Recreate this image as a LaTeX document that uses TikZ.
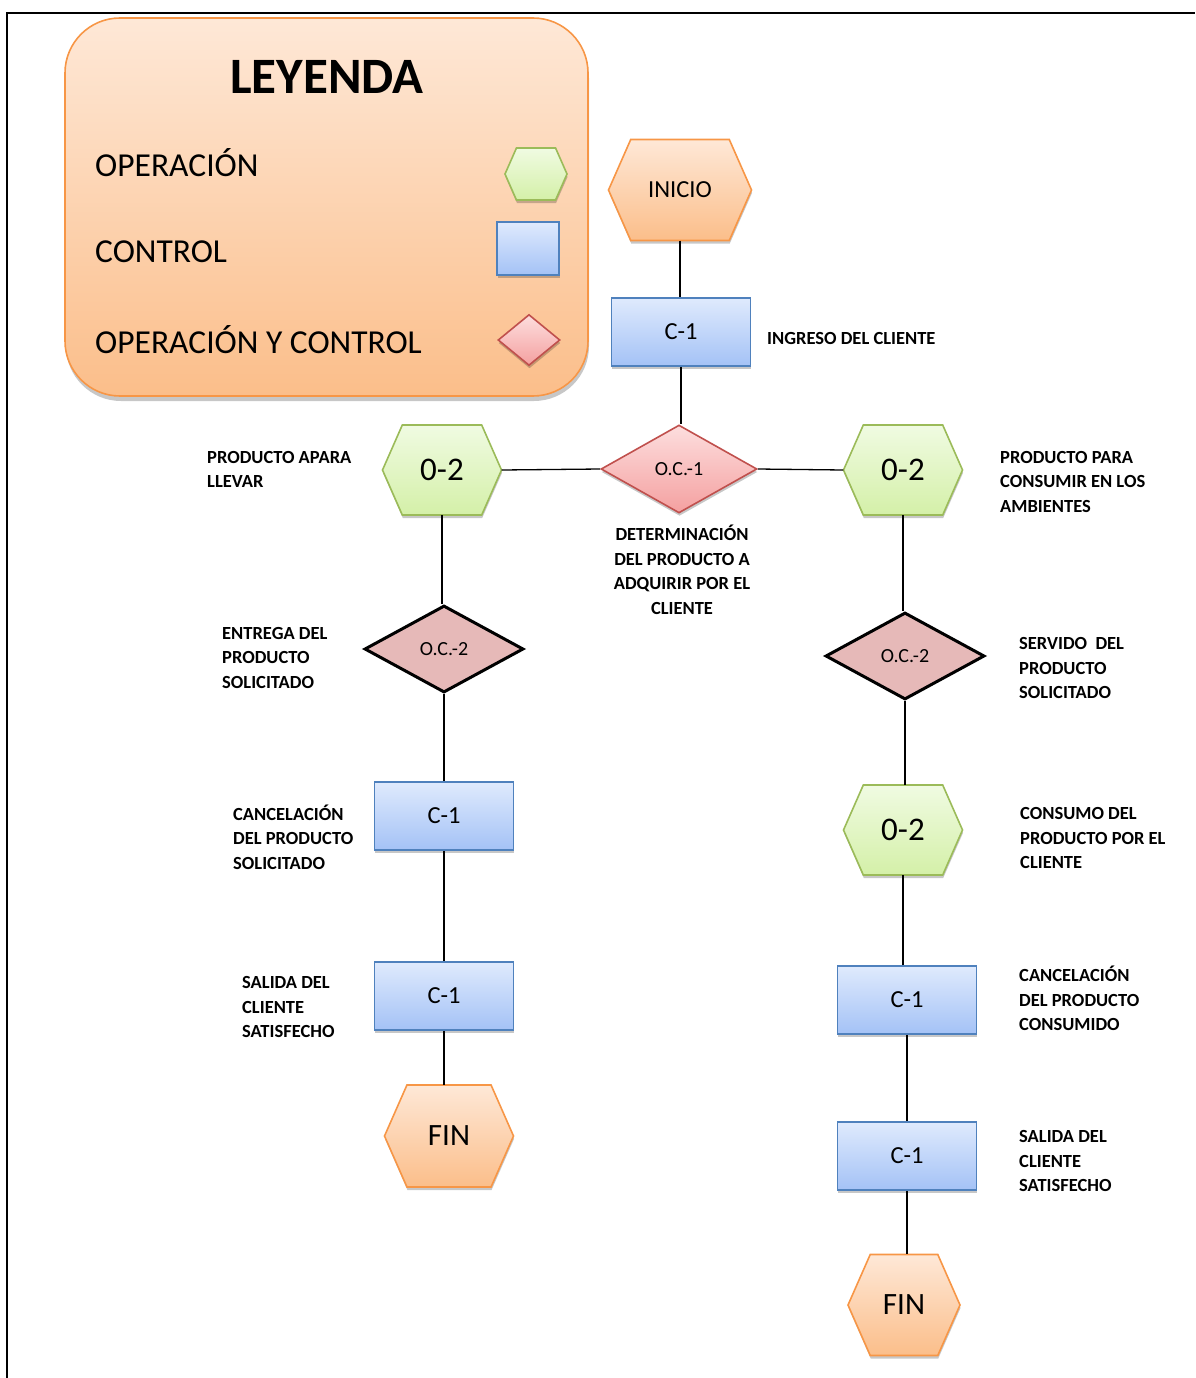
\documentclass[tikz,border=0pt]{standalone}
\usepackage{fontspec}
\setmainfont{Carlito}
\usetikzlibrary{shapes.geometric,shadows,calc}

\definecolor{orgline}{HTML}{F79646}
\definecolor{orgtop}{HTML}{FEE8D7}
\definecolor{orgbot}{HTML}{FBBE8A}
\definecolor{grnline}{HTML}{9BBB59}
\definecolor{grntop}{HTML}{F0FBE2}
\definecolor{grnbot}{HTML}{D4F0A8}
\definecolor{bluline}{HTML}{4F81BD}
\definecolor{blutop}{HTML}{DFEAFD}
\definecolor{blubot}{HTML}{A4C2F6}
\definecolor{redline}{HTML}{C0504D}
\definecolor{redtop}{HTML}{FDDEDE}
\definecolor{redbot}{HTML}{F4A0A0}
\definecolor{ocfill}{HTML}{E6B9B8}

\tikzset{
  conn/.style={draw=black, line width=1.3pt},
  softshadow/.style={drop shadow={shadow xshift=0.5pt, shadow yshift=-3pt, opacity=.22, fill=black}},
  orangefill/.style={top color=orgtop, bottom color=orgbot, draw=orgline, line width=1.6pt, softshadow},
  greenfill/.style={top color=grntop, bottom color=grnbot, draw=grnline, line width=1.6pt, softshadow},
  ctrlbox/.style={rectangle, top color=blutop, bottom color=blubot, draw=bluline, line width=1.6pt,
    minimum width=139pt, minimum height=68pt, inner sep=0pt, softshadow, font=\fontsize{24.5}{28}\selectfont},
  ocfirst/.style={diamond, top color=redtop, bottom color=redbot, draw=redline, line width=1.6pt,
    minimum width=156pt, minimum height=88pt, inner sep=0pt, softshadow, font=\fontsize{20}{24}\selectfont},
  ocsecond/.style={diamond, fill=ocfill, draw=black, line width=3pt,
    minimum width=159pt, minimum height=87pt, inner sep=0pt, font=\fontsize{20}{24}\selectfont},
  hexlabel/.style={rectangle, inner sep=0pt},
  note/.style={font=\bfseries\fontsize{18.5}{24.5}\selectfont, align=left, anchor=west, inner sep=0pt},
  legtext/.style={font=\fontsize{33.5}{40}\selectfont, anchor=west, inner sep=0pt},
  legendbox/.style={rectangle, rounded corners=55pt, top color=orgtop, bottom color=orgbot,
    draw=orgline, line width=1.6pt, minimum width=523pt, minimum height=378pt,
    drop shadow={shadow xshift=1pt, shadow yshift=-5pt, opacity=.22, fill=black}},
}

% hexagon with pointed left and right ends: style, name, x, y, width, height, font, text
\newcommand{\hexnode}[8]{%
  \pgfmathsetmacro{\hexhw}{#5/2}%
  \pgfmathsetmacro{\hexhh}{#6/2}%
  \pgfmathsetmacro{\hexin}{0.22*#6}%
  \path[#1] (#3-\hexhw,#4) -- (#3-\hexhw+\hexin,#4-\hexhh) -- (#3+\hexhw-\hexin,#4-\hexhh)
     -- (#3+\hexhw,#4) -- (#3+\hexhw-\hexin,#4+\hexhh) -- (#3-\hexhw+\hexin,#4+\hexhh) -- cycle;
  \node[hexlabel, minimum width=#5pt, minimum height=#6pt, font=#7] (#2) at (#3,#4) {#8};
}

\begin{document}
\begin{tikzpicture}[x=1pt, y=-1pt]
\useasboundingbox (0,0) rectangle (1195,1378);

% page frame
\draw[line width=2.5pt] (7,1378) -- (7,13) -- (1195,13);

% legend
\node[legendbox] (legend) at (326.5,207) {};
\node[font=\bfseries\fontsize{51}{60}\selectfont] (title) at (327,77) {LEYENDA};
\node[legtext] (lgop) at (95,163) {OPERACIÓN};
\node[legtext] (lgctl) at (95,252) {CONTROL};
\node[legtext] (lgoc) at (95,340) {OPERACIÓN Y CONTROL};
\hexnode{greenfill}{lghex}{536}{174}{62}{52}{\relax}{}
\node[ctrlbox, minimum width=62pt, minimum height=53pt] (lgbox) at (528,248.5) {};
\node[ocfirst, minimum width=62pt, minimum height=51pt] (lgdia) at (529,340) {};

% top of the flow
\hexnode{orangefill}{inicio}{680}{190}{143}{101}{\fontsize{24.5}{28}\selectfont}{INICIO}
\node[ctrlbox] (c1) at (681,332) {C-1};
\node[note] (lingreso) at (767,338) {INGRESO DEL CLIENTE};
\node[ocfirst] (oc1) at (679,469) {O.C.-1};
\node[note, align=center, anchor=center] (ldet) at (682,570) {DETERMINACIÓN\\DEL PRODUCTO A\\ADQUIRIR POR EL\\CLIENTE};

% left branch: take away
\hexnode{greenfill}{opL}{442}{470}{119}{90}{\fontsize{33}{38}\selectfont}{0-2}
\node[note] (lllevar) at (207,469.5) {PRODUCTO APARA\\LLEVAR};
\node[ocsecond] (ocL) at (444,649) {O.C.-2};
\node[note] (lentrega) at (222,657.5) {ENTREGA DEL\\PRODUCTO\\SOLICITADO};
\node[ctrlbox] (cL1) at (444,816) {C-1};
\node[note] (lcancL) at (233,837) {CANCELACIÓN\\DEL PRODUCTO\\SOLICITADO};
\node[ctrlbox] (cL2) at (444,996) {C-1};
\node[note] (lsalL) at (242,1007) {SALIDA DEL\\CLIENTE\\SATISFECHO};
\hexnode{orangefill}{finL}{449}{1136}{129}{102}{\fontsize{31}{36}\selectfont}{FIN}

% right branch: eat in
\hexnode{greenfill}{opR}{903}{470}{119}{90}{\fontsize{33}{38}\selectfont}{0-2}
\node[note] (lconsumir) at (1000,481.5) {PRODUCTO PARA\\CONSUMIR EN LOS\\AMBIENTES};
\node[ocsecond] (ocR) at (905,656) {O.C.-2};
\node[note] (lservido) at (1019,668) {SERVIDO~~DEL\\PRODUCTO\\SOLICITADO};
\hexnode{greenfill}{opR2}{903}{830}{119}{90}{\fontsize{33}{38}\selectfont}{0-2}
\node[note] (lconsumo) at (1020,838) {CONSUMO DEL\\PRODUCTO POR EL\\CLIENTE};
\node[ctrlbox] (cR1) at (907,1000) {C-1};
\node[note] (lcancR) at (1019,998.5) {CANCELACIÓN\\DEL PRODUCTO\\CONSUMIDO};
\node[ctrlbox] (cR2) at (907,1156) {C-1};
\node[note] (lsalR) at (1019,1161) {SALIDA DEL\\CLIENTE\\SATISFECHO};
\hexnode{orangefill}{finR}{904}{1305}{112}{101}{\fontsize{31}{36}\selectfont}{FIN}

% connectors
\draw[conn] (inicio.south) -- (inicio.south |- c1.north);
\draw[conn] (c1.south) -- (c1.south |- oc1.north);
\draw[conn] (opL.east) -- (oc1.west);
\draw[conn] (oc1.east) -- (opR.west);
\draw[conn] (opL.south) -- (opL.south |- ocL.north);
\draw[conn] (ocL.south) -- (ocL.south |- cL1.north);
\draw[conn] (cL1.south) -- (cL1.south |- cL2.north);
\draw[conn] (cL2.south) -- (cL2.south |- finL.north);
\draw[conn] (opR.south) -- (opR.south |- ocR.north);
\draw[conn] (ocR.south) -- (ocR.south |- opR2.north);
\draw[conn] (opR2.south) -- (opR2.south |- cR1.north);
\draw[conn] (cR1.south) -- (cR1.south |- cR2.north);
\draw[conn] (cR2.south) -- (cR2.south |- finR.north);
\end{tikzpicture}
\end{document}
